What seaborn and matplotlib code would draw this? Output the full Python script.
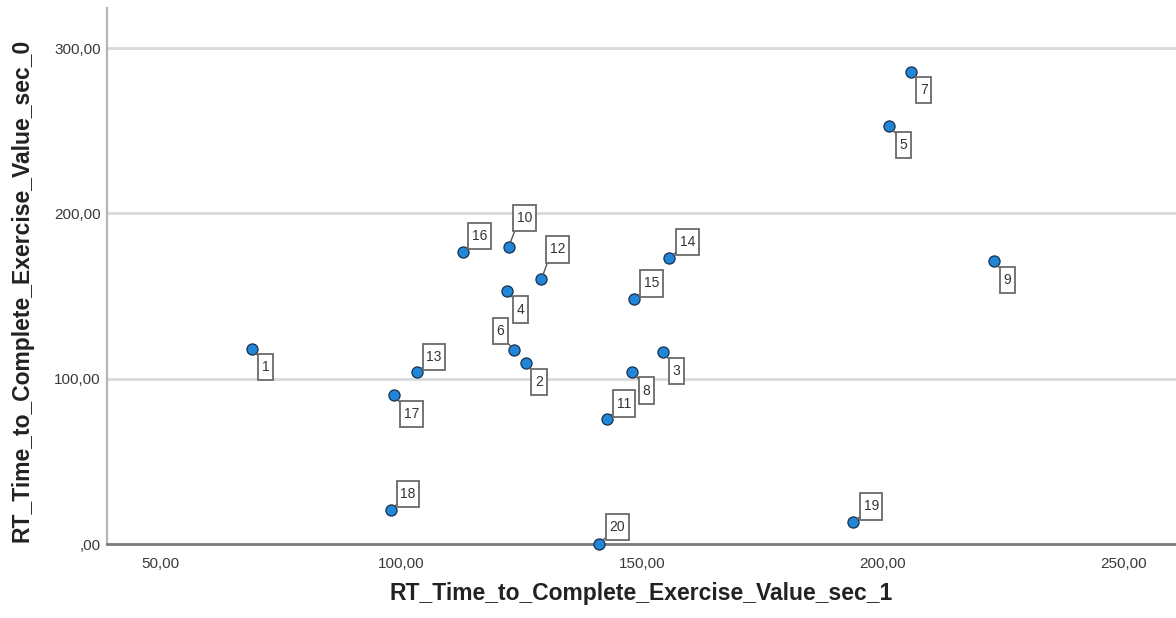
import matplotlib
matplotlib.use("Agg")
import matplotlib.pyplot as plt
from matplotlib.path import Path
import seaborn as sns
import pandas as pd

# ---- data ----
case_ids = list(range(1, 21))
sec_1 = [68.9, 125.9, 154.4, 121.9, 201.4, 123.3, 205.9, 148.0, 223.2, 122.3,
         142.7, 129.1, 103.2, 155.7, 148.4, 112.7, 98.4, 97.8, 193.9, 141.1]
sec_0 = [118.0, 109.5, 116.2, 153.2, 252.9, 117.2, 285.5, 104.2, 171.2, 179.7,
         75.8, 160.1, 103.9, 173.0, 148.0, 176.6, 90.0, 20.6, 13.1, 0.0]

x_ticks = [50, 100, 150, 200, 250]
x_tick_labels = ["50,00", "100,00", "150,00", "200,00", "250,00"]
y_ticks = [0, 100, 200, 300]
y_tick_labels = [",00", "100,00", "200,00", "300,00"]

x_title = "RT_Time_to_Complete_Exercise_Value_sec_1"
y_title = "RT_Time_to_Complete_Exercise_Value_sec_0"

# label placement (pixel offsets of each case label box from its point)
label_offsets = [(14, -18), (13, -19), (13, -19), (14, -19), (14, -19), (-13, 19),
                 (13, -18), (14, -19), (13, -19), (16, 29), (17, 15), (16, 30),
                 (17, 15), (18, 16), (17, 16), (17, 16), (18, -19), (17, 16),
                 (18, 16), (18, 17)]


def label_box(x0, y0, width, height, mutation_size):
    px = 0.26 * mutation_size
    py = 0.45 * mutation_size
    x0 -= px
    y0 -= py
    x1 = x0 + width + 2 * px
    y1 = y0 + height + 2 * py
    return Path([(x0, y0), (x1, y0), (x1, y1), (x0, y1), (x0, y0)], closed=True)


# ---- style ----
sns.set_style("white")
plt.rcParams["font.family"] = ["Liberation Sans", "DejaVu Sans"]

W, H = 1176, 618
fig = plt.figure(figsize=(W / 100, H / 100), dpi=100)
ax_left, ax_bottom_px, ax_top_px = 107, 544, 8
ax = fig.add_axes([ax_left / W, (H - ax_bottom_px) / H, 1 - ax_left / W,
                   (ax_bottom_px - ax_top_px) / H])

df = pd.DataFrame({"case": case_ids, x_title: sec_1, y_title: sec_0})

sns.scatterplot(data=df, x=x_title, y=y_title, ax=ax, s=64, color="#1f86d8",
                edgecolor="#1a2f4a", linewidth=0.9, zorder=5, clip_on=False,
                legend=False)

ax.set_xlim(38.8, 261.0)
ax.set_ylim(0, 324.2)

ax.set_xticks(x_ticks)
ax.set_xticklabels(x_tick_labels)
ax.set_yticks(y_ticks)
ax.set_yticklabels(y_tick_labels)

ax.yaxis.grid(True, color="#d9d9d9", linewidth=2)
ax.xaxis.grid(False)
ax.set_axisbelow(True)

for s in ["top", "right"]:
    ax.spines[s].set_visible(False)
ax.spines["left"].set_color("#b5b5b5")
ax.spines["left"].set_linewidth(1.6)
ax.spines["bottom"].set_color("#7a7a7a")
ax.spines["bottom"].set_linewidth(2)

ax.tick_params(axis="both", length=0, labelsize=11, colors="#3a3a3a")
ax.tick_params(axis="x", pad=9.5)
ax.tick_params(axis="y", pad=4.5)

ax.set_xlabel(x_title, fontsize=16.5, fontweight="bold", color="#222222", labelpad=8)
ax.set_ylabel(y_title, fontsize=16.5, fontweight="bold", color="#222222", labelpad=14)
ax.yaxis.set_label_coords(-73 / (W - ax_left), (ax_bottom_px - 290) / (ax_bottom_px - ax_top_px))

for cid, xv, yv, (dx, dy) in zip(case_ids, sec_1, sec_0, label_offsets):
    if dx > 0 and dy > 0:
        rp = (0, 0)
    elif dx > 0:
        rp = (0, 1)
    else:
        rp = (1, 0)
    ax.annotate(str(cid), xy=(xv, yv), xytext=(dx, dy), textcoords="offset pixels",
                ha="center", va="center", fontsize=10, color="#333333",
                bbox=dict(boxstyle=label_box, fc="white", ec="#6a6a6a", lw=1.3),
                arrowprops=dict(arrowstyle="-", color="#555555", lw=1.0,
                                shrinkA=0, shrinkB=4, relpos=rp),
                annotation_clip=False, zorder=6)

fig.savefig("out.png", dpi=100)
